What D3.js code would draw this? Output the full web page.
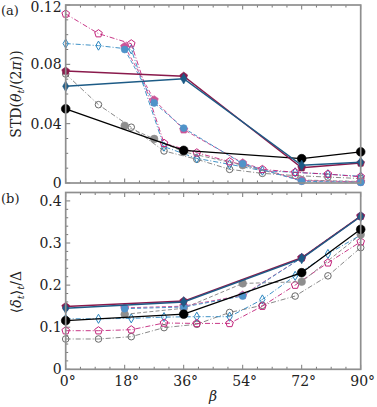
<!DOCTYPE html>
<html>
<head>
<meta charset="utf-8">
<script src="https://cdn.jsdelivr.net/npm/d3@7"></script>
<style>
  body { margin: 0; background: #fff; }
  svg text { font-family: "DejaVu Serif", serif; fill: #222; }
</style>
</head>
<body>
<div id="chart"></div>
<script>
// beta positions (degrees)
const betaSolid = [0, 36, 72, 90];
const betaDashA = [18, 27, 36, 54, 72, 90];
const betaDashB = [18, 36, 54, 72, 90];
const betaOpen = [0, 10, 20, 30, 40, 50, 60, 70, 80, 90];

// panel (a): STD(theta_t / 2pi)
const solidBlackA = [0.050, 0.022, 0.0164, 0.021];
const solidMaroonA = [0.0755, 0.072, 0.0103, 0.0135];
const solidBlueA = [0.0652, 0.0703, 0.0119, 0.014];
const dashGrayA = [0.0386, 0.0297, 0.021, 0.012, 0.002, 0.001];
const dashPinkA = [0.092, 0.056, 0.036, 0.0135, 0.0016, 0.0008];
const dashBlueA = [0.090, 0.054, 0.037, 0.013, 0.0012, 0.0004];
const openGrayA = [0.0735, 0.0528, 0.0376, 0.0216, 0.016, 0.0092, 0.0065, 0.005, 0.004, 0.003];
const openMagentaA = [0.114, 0.1007, 0.0939, 0.0268, 0.0204, 0.0144, 0.0092, 0.0072, 0.006, 0.0042];
const openBlueA = [0.094, 0.0926, 0.0901, 0.0245, 0.0166, 0.0126, 0.0083, 0.0072, 0.0059, 0.0045];

// panel (b): <delta_t>_t / Delta
const solidBlackB = [0.1155, 0.131, 0.2295, 0.3325];
const solidMaroonB = [0.149, 0.162, 0.265, 0.364];
const solidBlueB = [0.145, 0.160, 0.263, 0.363];
const dashGrayB = [0.1306, 0.145, 0.204, 0.208, 0.32];
const dashPinkB = [0.146, 0.150, 0.176, 0.265, 0.364];
const dashBlueB = [0.144, 0.148, 0.174, 0.265, 0.364];
const openGrayB = [0.072, 0.072, 0.0775, 0.099, 0.107, 0.135, 0.152, 0.174, 0.222, 0.289];
const openMagentaB = [0.0917, 0.0917, 0.094, 0.110, 0.109, 0.109, 0.150, 0.200, 0.253, 0.303];
const openBlueB = [0.12, 0.12, 0.121, 0.124, 0.125, 0.125, 0.166, 0.222, 0.274, 0.319];

const xTicks = [0, 18, 36, 54, 72, 90];
const yTicksA = [0, 0.04, 0.08, 0.12];
const yTicksB = [0, 0.1, 0.2, 0.3, 0.4];

const FONT = 'DejaVu Serif';

const width = 377, height = 407;
const svg = d3.select('#chart').append('svg')
    .attr('width', width)
    .attr('height', height)
    .attr('font-family', FONT);

const x = d3.scaleLinear().domain([0, 90]).range([65.7, 360.7]);
const yA = d3.scaleLinear().domain([0, 0.12]).range([183, 5]);
const yB = d3.scaleLinear().domain([0, 0.42]).range([369.3, 192.5]);

// pentagon marker
const symbolPentagon = {
    draw(ctx, size) {
        const r = Math.sqrt(size / (2.5 * Math.sin(2 * Math.PI / 5)));
        for (let i = 0; i < 5; i++) {
            const a = -Math.PI / 2 + i * 2 * Math.PI / 5;
            if (i === 0) ctx.moveTo(r * Math.cos(a), r * Math.sin(a));
            else ctx.lineTo(r * Math.cos(a), r * Math.sin(a));
        }
        ctx.closePath();
    }
};
const shapes = { circle: d3.symbolCircle, diamond: d3.symbolDiamond, pentagon: symbolPentagon };

const DASH = '4,2.2';
const DASHDOT = '5,2,1,2';

const seriesA = [
    { x: betaOpen, y: openGrayA, color: '#6a6a6a', dash: DASHDOT, w: 0.8, sym: 'circle', open: true, size: 34 },
    { x: betaOpen, y: openBlueA, color: '#2b86c0', dash: DASHDOT, w: 0.9, sym: 'diamond', open: true, size: 24 },
    { x: betaOpen, y: openMagentaA, color: '#c2237a', dash: DASHDOT, w: 0.9, sym: 'pentagon', open: true, size: 38 },
    { x: betaDashA, y: dashGrayA, color: '#8e8e8e', dash: DASH, w: 1, sym: 'circle', open: false, size: 46 },
    { x: betaDashA, y: dashPinkA, color: '#cc5497', dash: DASH, w: 1, sym: 'pentagon', open: false, size: 44 },
    { x: betaDashA, y: dashBlueA, color: '#4f93c9', dash: DASH, w: 1, sym: 'circle', open: false, size: 38 },
    { x: betaSolid, y: solidBlackA, color: '#000000', dash: null, w: 1.3, sym: 'circle', open: false, size: 60 },
    { x: betaSolid, y: solidMaroonA, color: '#8a1a4c', dash: null, w: 1.5, sym: 'pentagon', open: false, size: 40 },
    { x: betaSolid, y: solidBlueA, color: '#1d5b86', dash: null, w: 1.5, sym: 'diamond', open: false, size: 32 }
];

const seriesB = [
    { x: betaOpen, y: openGrayB, color: '#6a6a6a', dash: DASHDOT, w: 0.8, sym: 'circle', open: true, size: 34 },
    { x: betaOpen, y: openBlueB, color: '#2b86c0', dash: DASHDOT, w: 0.9, sym: 'diamond', open: true, size: 24 },
    { x: betaOpen, y: openMagentaB, color: '#c2237a', dash: DASHDOT, w: 0.9, sym: 'pentagon', open: true, size: 38 },
    { x: betaDashB, y: dashGrayB, color: '#8e8e8e', dash: DASH, w: 1, sym: 'circle', open: false, size: 46 },
    { x: betaDashB, y: dashPinkB, color: '#cc5497', dash: DASH, w: 1, sym: 'pentagon', open: false, size: 44 },
    { x: betaDashB, y: dashBlueB, color: '#4f93c9', dash: DASH, w: 1, sym: 'circle', open: false, size: 38 },
    { x: betaSolid, y: solidBlackB, color: '#000000', dash: null, w: 1.3, sym: 'circle', open: false, size: 60 },
    { x: betaSolid, y: solidMaroonB, color: '#8a1a4c', dash: null, w: 1.5, sym: 'pentagon', open: false, size: 40 },
    { x: betaSolid, y: solidBlueB, color: '#1d5b86', dash: null, w: 1.5, sym: 'diamond', open: false, size: 32 }
];

function drawPanel(y, series, yTicks, yMinor, yFmt, showX) {
    const g = svg.append('g');
    const [x0, x1] = x.range();
    const [yb, yt] = y.range();

    // ticks (inward)
    const tickLine = (x1_, y1_, x2_, y2_) => g.append('line')
        .attr('x1', x1_).attr('y1', y1_).attr('x2', x2_).attr('y2', y2_)
        .attr('stroke', '#555').attr('stroke-width', 0.8);

    d3.range(0, 90.01, 4.5).forEach(v => {
        const major = v % 18 === 0;
        const len = major ? 4.5 : 2.5;
        tickLine(x(v), yb, x(v), yb - len);
        tickLine(x(v), yt, x(v), yt + len);
    });
    d3.range(0, y.domain()[1] + 1e-9, yMinor).forEach(v => {
        const major = yTicks.some(t => Math.abs(t - v) < 1e-9);
        const len = major ? 4.5 : 2.5;
        tickLine(x0, y(v), x0 + len, y(v));
    });

    // lines and markers
    series.forEach(s => {
        const pts = s.x.map((b, i) => [b, s.y[i]]);
        g.append('path')
            .datum(pts)
            .attr('fill', 'none')
            .attr('stroke', s.color)
            .attr('stroke-width', s.w)
            .attr('stroke-dasharray', s.dash)
            .attr('d', d3.line().x(d => x(d[0])).y(d => y(d[1])));
        g.selectAll(null)
            .data(pts)
            .enter().append('path')
            .attr('transform', d => `translate(${x(d[0])},${y(d[1])})`)
            .attr('d', d3.symbol().type(shapes[s.sym]).size(s.size))
            .attr('fill', s.open ? 'none' : s.color)
            .attr('stroke', s.color)
            .attr('stroke-width', s.open ? 1 : 0.6);
    });

    // frame
    g.append('rect')
        .attr('x', x0).attr('y', yt)
        .attr('width', x1 - x0).attr('height', yb - yt)
        .attr('fill', 'none')
        .attr('stroke', '#8f8f8f')
        .attr('stroke-width', 1.7);

    // y tick labels
    g.selectAll(null)
        .data(yTicks)
        .enter().append('text')
        .attr('x', x0 - 4)
        .attr('y', d => Math.max(y(d) + 5, 12))
        .attr('text-anchor', 'end')
        .style('font-size', '14px')
        .text(yFmt);

    if (showX) {
        g.selectAll(null)
            .data(xTicks)
            .enter().append('text')
            .attr('x', d => x(d) + 2)
            .attr('y', yb + 17)
            .attr('text-anchor', 'middle')
            .style('font-size', '14px')
            .text(d => d + '°');
    }
    return g;
}

drawPanel(yA, seriesA, yTicksA, 0.01, d => d === 0 ? '0' : d3.format('.2f')(d), false);
drawPanel(yB, seriesB, yTicksB, 0.02, d => d === 0 ? '0' : d3.format('.1f')(d), true);

// panel letters
svg.append('text').attr('x', 1).attr('y', 15).style('font-size', '13px').text('(a)');
svg.append('text').attr('x', 1).attr('y', 203).style('font-size', '13px').text('(b)');

// y axis labels
const labA = svg.append('text')
    .attr('transform', 'translate(21,94) rotate(-90)')
    .attr('text-anchor', 'middle')
    .style('font-size', '14px');
labA.append('tspan').text('STD(');
labA.append('tspan').style('font-style', 'italic').text('θ');
labA.append('tspan').style('font-style', 'italic').style('font-size', '10px').attr('dy', 3).text('t');
labA.append('tspan').attr('dy', -3).text('/(2');
labA.append('tspan').style('font-style', 'italic').text('π');
labA.append('tspan').text('))');

const labB = svg.append('text')
    .attr('transform', 'translate(21,292) rotate(-90)')
    .attr('text-anchor', 'middle')
    .style('font-size', '14px');
labB.append('tspan').text('⟨');
labB.append('tspan').style('font-style', 'italic').text('δ');
labB.append('tspan').style('font-style', 'italic').style('font-size', '10px').attr('dy', 3).text('t');
labB.append('tspan').attr('dy', -3).text('⟩');
labB.append('tspan').style('font-style', 'italic').style('font-size', '10px').attr('dy', 3).text('t');
labB.append('tspan').attr('dy', -3).text('/Δ');

// x axis label
svg.append('text')
    .attr('x', 213).attr('y', 401)
    .attr('text-anchor', 'middle')
    .style('font-size', '14px')
    .style('font-style', 'italic')
    .text('β');
</script>
</body>
</html>
